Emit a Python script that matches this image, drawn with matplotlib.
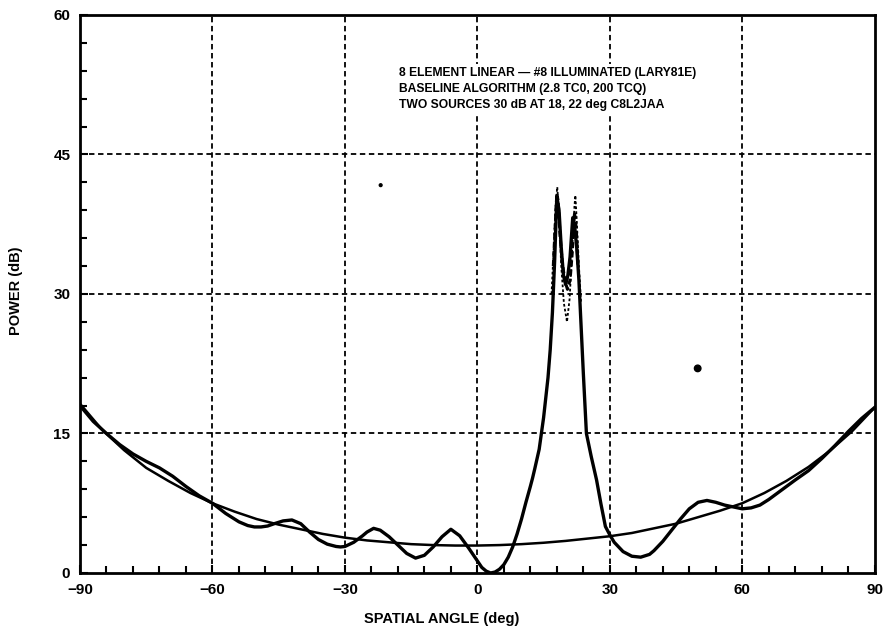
import matplotlib.pyplot as plt
from matplotlib.ticker import MultipleLocator

plt.rcParams['font.family'] = ['Liberation Sans', 'DejaVu Sans']
plt.rcParams['font.weight'] = 'bold'

# quiescent pattern (smooth bowl)
quiet_x = [-90, -85, -80, -75, -70, -65, -60, -55, -50, -45, -40, -35, -30, -25, -20,
           -15, -10, -5, 0, 5, 10, 15, 20, 25, 30, 35, 40, 45, 50, 55, 60, 65, 70, 75,
           80, 85, 90]
quiet_y = [18.2, 15.4, 13.2, 11.3, 9.9, 8.6, 7.5, 6.6, 5.8, 5.2, 4.7, 4.2, 3.8, 3.5, 3.3,
           3.1, 3.0, 2.95, 2.95, 3.0, 3.1, 3.25, 3.45, 3.7, 3.95, 4.3, 4.8, 5.3, 6.0, 6.7,
           7.5, 8.6, 9.9, 11.4, 13.2, 15.3, 17.8]

# adapted pattern with the two sources at 18 and 22 deg
adapt_x = [-90, -87, -84, -81, -78, -75, -72, -69, -66, -63, -60, -57, -54, -52, -50.5,
           -49, -47.5, -46, -44, -42, -40, -38, -36, -34, -32, -31, -30, -28, -26, -25,
           -23.5, -22, -20, -18, -16, -14, -12, -10, -8, -6, -4, -2, 0, 1, 2, 3, 4, 5,
           6, 7, 8, 9, 10, 11, 12, 12.5, 13, 14, 14.5, 15, 16, 16.5, 17, 17.5, 18, 18.5,
           19, 19.5, 20, 20.5, 21, 21.6, 22, 22.5, 23, 23.5, 24, 24.7, 25.8, 27, 28, 29,
           30, 31, 33, 35, 37, 39, 40, 42, 44, 46, 48, 50, 52, 54, 56, 58, 60, 62, 64,
           66, 68, 70, 72, 75, 78, 81, 84, 87, 90]
adapt_y = [18.0, 16.3, 15.0, 13.8, 12.8, 12.0, 11.3, 10.4, 9.3, 8.3, 7.5, 6.4, 5.5, 5.1,
           4.95, 4.95, 5.05, 5.3, 5.6, 5.7, 5.3, 4.4, 3.6, 3.1, 2.85, 2.8, 2.85, 3.3,
           4.0, 4.4, 4.8, 4.6, 3.9, 3.0, 2.1, 1.6, 1.9, 2.8, 3.9, 4.7, 4.0, 2.7, 1.3,
           0.6, 0.2, 0.0, 0.1, 0.4, 0.9, 1.7, 2.8, 4.2, 5.8, 7.6, 9.3, 10.2, 11.2, 13.3,
           15.0, 16.7, 21.0, 24.0, 28.0, 33.5, 40.5, 39.0, 35.0, 32.0, 31.0, 32.0, 34.0,
           38.2, 37.5, 35.0, 31.5, 26.5, 21.5, 15.0, 12.5, 10.0, 7.4, 5.0, 4.1, 3.3, 2.3,
           1.8, 1.7, 2.0, 2.4, 3.4, 4.6, 5.8, 6.9, 7.6, 7.8, 7.6, 7.3, 7.1, 6.9, 7.0,
           7.3, 7.9, 8.6, 9.3, 10.0, 11.0, 12.3, 13.7, 15.2, 16.6, 17.8]

# faster converging iterations around the source peaks
iter_x = [16.8, 17.3, 17.8, 18.1, 18.5, 19.0, 19.6, 20.3, 20.9, 21.5, 22.0, 22.2, 22.5,
          23.0, 23.5]
iter_y = [30.0, 35.0, 40.0, 41.5, 38.5, 33.0, 29.0, 27.0, 29.5, 35.0, 39.5, 40.6, 38.0,
          33.0, 29.0]
iter2_x = [17.2, 17.6, 18.0, 18.3, 18.7, 19.2, 19.8, 20.4, 21.0, 21.5, 22.0, 22.4, 22.8]
iter2_y = [33.0, 37.0, 40.8, 40.0, 36.5, 33.5, 31.5, 30.5, 31.5, 34.5, 38.8, 37.0, 33.0]

speck_x = [-21.9, 49.9]
speck_y = [41.7, 22.0]
speck_s = [4, 22]

header = ["8 ELEMENT LINEAR \u2014 #8 ILLUMINATED (LARY81E)",
          "BASELINE ALGORITHM (2.8 TC0, 200 TCQ)",
          "TWO SOURCES 30 dB AT 18, 22 deg C8L2JAA"]

fig = plt.figure(figsize=(8.84, 6.37), dpi=100)
ax = fig.add_axes([0.0905, 0.1005, 0.899, 0.876])

ax.plot(quiet_x, quiet_y, color='black', lw=1.8, solid_capstyle='round')
ax.plot(adapt_x, adapt_y, color='black', lw=2.4, solid_joinstyle='round')
ax.plot(iter_x, iter_y, color='black', lw=1.3, ls=(0, (1.5, 1.2)))
ax.plot(iter2_x, iter2_y, color='black', lw=2.2, ls=(0, (2, 1)))
ax.scatter(speck_x, speck_y, s=speck_s, color='black', zorder=3)

ax.set_xlim(-90, 90)
ax.set_ylim(0, 60)
ax.xaxis.set_minor_locator(MultipleLocator(6))
ax.yaxis.set_major_locator(MultipleLocator(15))
ax.yaxis.set_minor_locator(MultipleLocator(3))
ax.set_xticks([-90, -60, -30, 0, 30, 60, 90])
ax.set_xticklabels(['\u221290', '\u221260', '\u221230', '0', '30', '60', '90'])
ax.tick_params(which='both', direction='in', width=1.5)
ax.tick_params(which='major', length=6, labelsize=11, pad=7)
ax.tick_params(which='minor', length=5)
for t in ax.get_xticklabels() + ax.get_yticklabels():
    t.set_fontweight('bold')

for v in [-60, -30, 0, 30, 60]:
    ax.axvline(v, color='black', lw=1.3, ls=(0, (3, 2)), zorder=0)
for v in [15, 30, 45]:
    ax.axhline(v, color='black', lw=1.3, ls=(0, (3, 2)), zorder=0)

for s in ax.spines.values():
    s.set_linewidth(2)

ax.set_xlabel('SPATIAL ANGLE (deg)', fontsize=10.5, fontweight='bold')
ax.xaxis.set_label_coords(0.455, -0.07)
ax.set_ylabel('POWER (dB)', fontsize=10.5, fontweight='bold')
ax.yaxis.set_label_coords(-0.072, 0.505)

# header block blanks out the grid behind it
ax.text(0.401, 0.868, "\n".join(header), transform=ax.transAxes, fontsize=8.7,
        fontweight='bold', va='center', ha='left', linespacing=1.45,
        bbox=dict(facecolor='white', edgecolor='none', pad=2), zorder=4)

fig.savefig('out.png', dpi=100)
